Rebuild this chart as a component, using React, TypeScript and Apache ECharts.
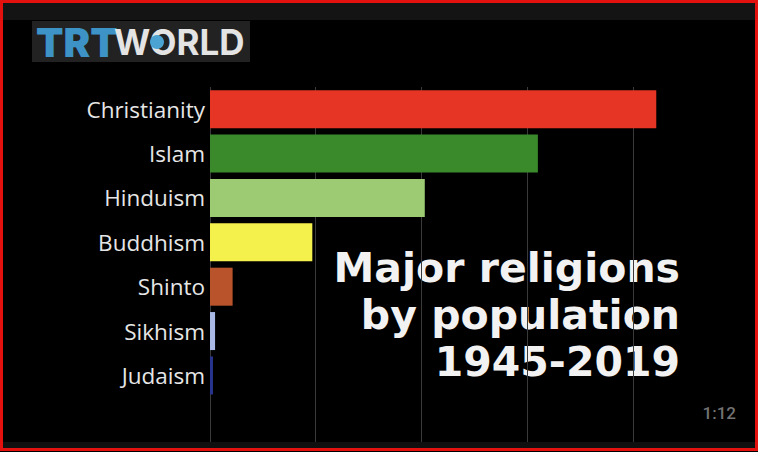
import React, { useEffect, useRef } from "react";
import * as echarts from "echarts";

// followers in millions
const religions = ["Christianity", "Islam", "Hinduism", "Buddhism", "Shinto", "Sikhism", "Judaism"];
const followers = [2111, 1551, 1016, 484, 107, 24, 14];
const barColors = ["#e63425", "#3a8a2b", "#9ccb73", "#f4f04c", "#b9532b", "#aab8e6", "#27358f"];
const titleLines = ["Major religions", "by population", "1945-2019"];
const xMax = 2500;
const xStep = 500;
const timestamp = "1:12";

const App: React.FC = () => {
  const chartRef = useRef<HTMLDivElement | null>(null);

  useEffect(() => {
    if (!chartRef.current) return;
    const chart = echarts.init(chartRef.current, undefined, { renderer: "svg" });

    const textStyle = (text: string, size: number, weight: string | number, color: string, family: string, align = "left") => ({
      text,
      fill: color,
      fontSize: size,
      fontWeight: weight,
      fontFamily: family,
      align,
      textAlign: align,
      verticalAlign: "middle",
      textVerticalAlign: "middle",
    });

    const options = {
      animation: false,
      backgroundColor: "#000000",
      grid: { left: 210, right: 19.5, top: 87, bottom: 10 },
      xAxis: {
        type: "value",
        min: 0,
        max: xMax,
        interval: xStep,
        axisLabel: { show: false },
        axisLine: { show: false },
        axisTick: { show: false },
        splitLine: { show: true, showMaxLine: false, lineStyle: { color: "#3a3a3a", width: 1 } },
      },
      yAxis: {
        type: "category",
        inverse: true,
        // one empty slot at the bottom, as in the frame
        data: [...religions, ""],
        axisLine: { show: false },
        axisTick: { show: false },
        splitLine: { show: false },
        axisLabel: {
          color: "#e6e6e6",
          fontSize: 22.5,
          fontFamily: "Open Sans",
          margin: 5,
        },
      },
      series: [
        {
          type: "bar",
          barWidth: 38,
          data: followers.map((v, i) => ({ value: v, itemStyle: { color: barColors[i] } })),
        },
      ],
      graphic: [
        { type: "rect", shape: { x: 0, y: 0, width: 758, height: 20 }, style: { fill: "#141414" } },
        { type: "rect", shape: { x: 0, y: 442, width: 758, height: 8 }, style: { fill: "#101010" } },
        { type: "rect", shape: { x: 32, y: 21, width: 218, height: 41 }, style: { fill: "#222222" } },
        { type: "text", x: 36, y: 42, style: textStyle("TRT", 40, 900, "#3d93c6", "Inter") },
        { type: "text", x: 114, y: 42, style: textStyle("WORLD", 35, 700, "#e4e4e4", "Inter") },
        { type: "circle", shape: { cx: 157, cy: 42, r: 7 }, style: { fill: "#4aa3d3" } },
        ...titleLines.map((line, i) => ({
          type: "text",
          x: 680,
          y: 268 + i * 47,
          style: textStyle(line, 41, "bold", "#f2f2f2", "DejaVu Sans", "right"),
        })),
        { type: "text", x: 736, y: 413, style: textStyle(timestamp, 17, 500, "#737373", "Roboto", "right") },
        {
          type: "rect",
          z: 100,
          shape: { x: 1.5, y: 1.5, width: 755, height: 448 },
          style: { fill: "none", stroke: "#e3120f", lineWidth: 3 },
        },
      ],
    };

    chart.setOption(options);

    return () => {
      chart.dispose();
    };
  }, []);

  return <div ref={chartRef} style={{ position: "absolute", left: 0, top: 0, width: 758, height: 452 }} />;
};

export default App;
